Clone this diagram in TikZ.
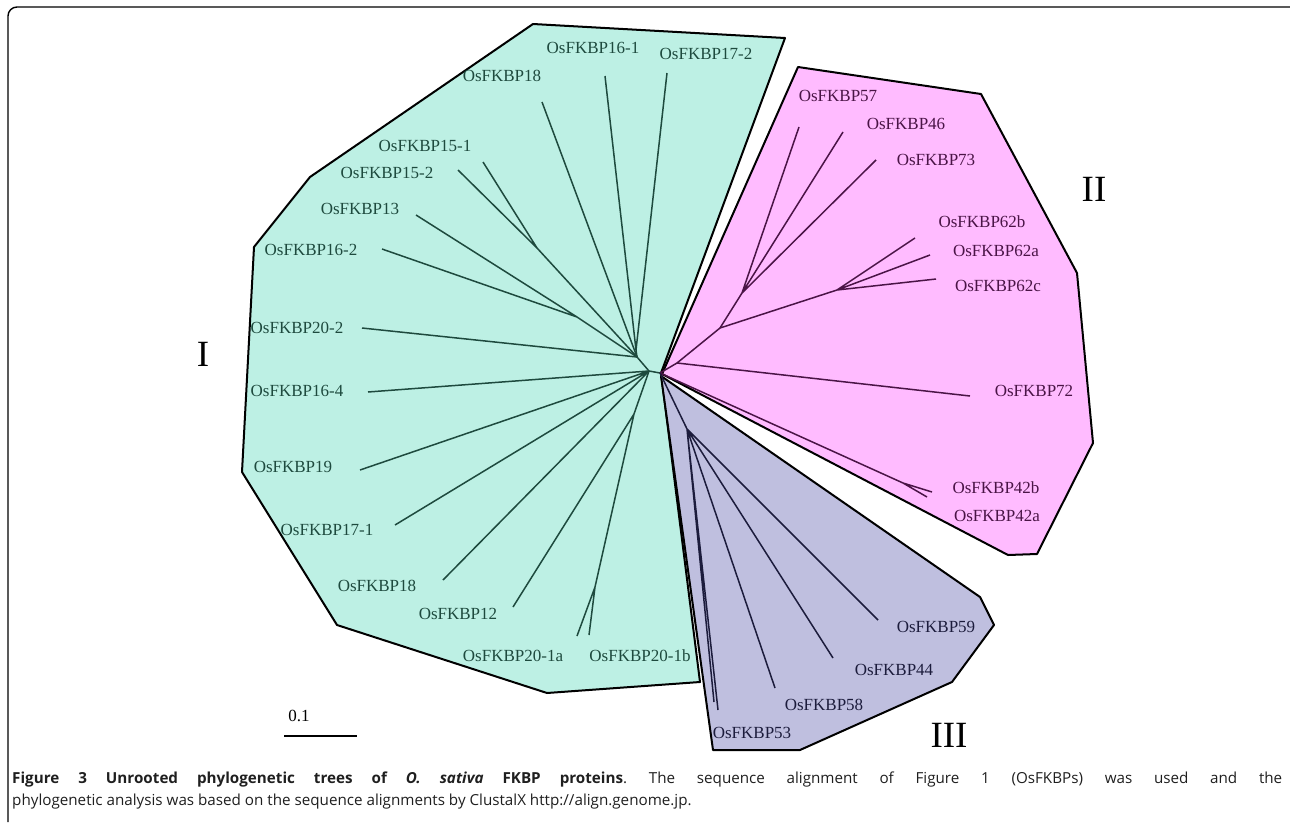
\documentclass[tikz,border=0pt]{standalone}
\usepackage{fontspec}
\setmainfont{Liberation Serif}
\newfontfamily\capfont{Open Sans}
\definecolor{tealfill}{HTML}{BDF0E4}
\definecolor{pinkfill}{HTML}{FFBBFF}
\definecolor{lavfill}{HTML}{BFBFDF}
\definecolor{tealink}{HTML}{1E4A3E}
\definecolor{pinkink}{HTML}{4A1446}
\definecolor{lavink}{HTML}{1C1C3C}
\tikzset{
  grp/.style={draw=black, line width=2pt, line join=round},
  brI/.style={draw=tealink, line width=1.5pt},
  brII/.style={draw=pinkink, line width=1.5pt},
  brIII/.style={draw=lavink, line width=1.5pt},
  lab/.style={inner sep=0pt, font=\fontsize{17}{20}\selectfont},
  labI/.style={lab, text=tealink},
  labII/.style={lab, text=pinkink},
  labIII/.style={lab, text=lavink},
  roman/.style={inner sep=0pt, font=\fontsize{37}{40}\selectfont},
  captext/.style={inner sep=0pt, anchor=base west, text=black!88, font=\capfont\fontsize{15.2}{18}\selectfont},
}
\begin{document}
\begin{tikzpicture}[x=1pt,y=-1pt]
\useasboundingbox (0,0) rectangle (1290,822);
% frame
\draw[line width=1.4pt, rounded corners=9pt] (8,822) -- (8,7) -- (1290,7);
% group polygons
\path[grp, fill=tealfill] (533,24) -- (785,38) -- (661,373) -- (700,682) -- (547,693) -- (337,625) -- (242,472) -- (254,247) -- (310,177) -- cycle;
\path[grp, fill=pinkfill] (798,67) -- (981,94) -- (1077,273) -- (1093,443) -- (1037,554) -- (1008,555) -- (662,374) -- cycle;
\path[grp, fill=lavfill] (661,376) -- (980,597) -- (994,625) -- (952,682) -- (800,750) -- (713,750) -- cycle;
% internal nodes
\coordinate (R) at (660,373);
\coordinate (B) at (649,371);
\coordinate (C) at (637,357);
\coordinate (P1) at (636,350);
\coordinate (Q) at (577,317);
\coordinate (S15) at (537,248);
\coordinate (D) at (634,414);
\coordinate (E) at (595,587);
\coordinate (G) at (677,363);
\coordinate (H) at (720,328);
\coordinate (J) at (742,293);
\coordinate (K) at (837,290);
\coordinate (L) at (903,483);
\coordinate (F) at (687,429);
% tips group I
\coordinate (t161) at (605,76);
\coordinate (t172) at (667,73);
\coordinate (t18a) at (542,102);
\coordinate (t151) at (483,162);
\coordinate (t152) at (458,170);
\coordinate (t13) at (416,215);
\coordinate (t162) at (382,249);
\coordinate (t202) at (362,328);
\coordinate (t164) at (368,392);
\coordinate (t19) at (360,470);
\coordinate (t171) at (395,525);
\coordinate (t18b) at (443,580);
\coordinate (t12) at (513,607);
\coordinate (t201a) at (577,636);
\coordinate (t201b) at (589,635);
% tips group II
\coordinate (t57) at (799,127);
\coordinate (t46) at (843,132);
\coordinate (t73) at (876,160);
\coordinate (t62b) at (915,238);
\coordinate (t62a) at (930,255);
\coordinate (t62c) at (936,279);
\coordinate (t72) at (970,396);
\coordinate (t42b) at (932,492);
\coordinate (t42a) at (927,497);
% tips group III
\coordinate (t59) at (878,620);
\coordinate (t44) at (833,658);
\coordinate (t58) at (775,688);
\coordinate (t53) at (718,710);
\coordinate (t53x) at (714,702);
% branches group I
\draw[brI] (C) -- (P1) (P1) -- (t161) (P1) -- (t172);
\draw[brI] (C) -- (t18a);
\draw[brI] (C) -- (S15) (S15) -- (t151) (S15) -- (t152);
\draw[brI] (C) -- (Q) (Q) -- (t13) (Q) -- (t162);
\draw[brI] (C) -- (t202);
\draw[brI] (B) -- (C) (B) -- (R);
\draw[brI] (B) -- (t164) (B) -- (t19) (B) -- (t171) (B) -- (t18b);
\draw[brI] (B) -- (D) (D) -- (t12) (D) -- (E) (E) -- (t201a) (E) -- (t201b);
% branches group II
\draw[brII] (R) -- (G) (G) -- (H) (G) -- (t72);
\draw[brII] (H) -- (J) (J) -- (t57) (J) -- (t46) (J) -- (t73);
\draw[brII] (H) -- (K) (K) -- (t62b) (K) -- (t62a) (K) -- (t62c);
\draw[brII] (R) -- (L) (L) -- (t42b) (L) -- (t42a);
% branches group III
\draw[brIII] (R) -- (F) (F) -- (t59) (F) -- (t44) (F) -- (t58) (F) -- (t53) (F) -- (t53x);
% labels group I
\node[labI] (l161) at (593,48) {OsFKBP16-1};
\node[labI] (l172) at (706,54) {OsFKBP17-2};
\node[labI] (l18a) at (502,76) {OsFKBP18};
\node[labI] (l151) at (425,146) {OsFKBP15-1};
\node[labI] (l152) at (387,173) {OsFKBP15-2};
\node[labI] (l13) at (360,209) {OsFKBP13};
\node[labI] (l162) at (311,250) {OsFKBP16-2};
\node[labI] (l202) at (297,328) {OsFKBP20-2};
\node[labI] (l164) at (297,391) {OsFKBP16-4};
\node[labI] (l19) at (293,467) {OsFKBP19};
\node[labI] (l171) at (327,530) {OsFKBP17-1};
\node[labI] (l18b) at (377,586) {OsFKBP18};
\node[labI] (l12) at (458,614) {OsFKBP12};
\node[labI] (l201a) at (513,656) {OsFKBP20-1a};
\node[labI] (l201b) at (640,656) {OsFKBP20-1b};
% labels group II
\node[labII] (l57) at (838,96) {OsFKBP57};
\node[labII] (l46) at (906,124) {OsFKBP46};
\node[labII] (l73) at (936,160) {OsFKBP73};
\node[labII] (l62b) at (982,222) {OsFKBP62b};
\node[labII] (l62a) at (996,251) {OsFKBP62a};
\node[labII] (l62c) at (998,286) {OsFKBP62c};
\node[labII] (l72) at (1034,391) {OsFKBP72};
\node[labII] (l42b) at (996,488) {OsFKBP42b};
\node[labII] (l42a) at (997,516) {OsFKBP42a};
% labels group III
\node[labIII] (l59) at (936,627) {OsFKBP59};
\node[labIII] (l44) at (894,670) {OsFKBP44};
\node[labIII] (l58) at (824,705) {OsFKBP58};
\node[labIII] (l53) at (752,733) {OsFKBP53};
% group numerals
\node[roman] (gI) at (203,354) {I};
\node[roman] (gII) at (1094,189) {II};
\node[roman] (gIII) at (949,735) {III};
% scale bar
\coordinate (sb1) at (284,736);
\coordinate (sb2) at (357,736);
\draw[line width=1.8pt] (sb1) -- (sb2);
\node[lab] (l01) at (299,716) {0.1};
% caption
\node[captext] (cap1) at (12,783)
  {\makebox[1270pt][s]{\makebox[615pt][s]{\textbf{Figure 3 Unrooted phylogenetic trees of \textit{O. sativa} FKBP proteins}.} The sequence alignment of Figure 1 (OsFKBPs) was used and the}};
\node[captext] (cap2) at (12,805)
  {phylogenetic analysis was based on the sequence alignments by ClustalX http://align.genome.jp.};
\end{tikzpicture}
\end{document}
